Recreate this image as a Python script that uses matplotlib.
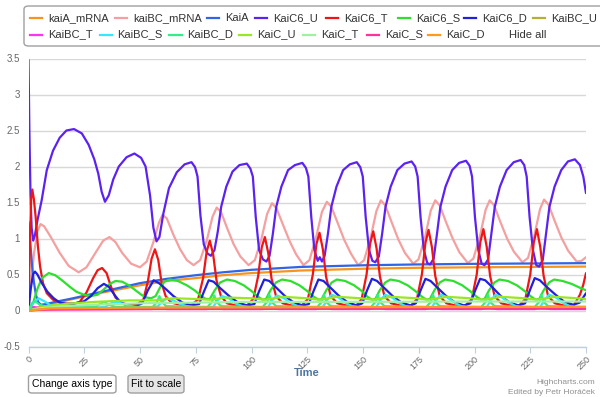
import numpy as np
import matplotlib
matplotlib.use("Agg")
import matplotlib.pyplot as plt
from matplotlib.patches import FancyBboxPatch
from matplotlib.lines import Line2D

plt.rcParams['font.family'] = ['Liberation Sans', 'DejaVu Sans']

# (time, value) pairs
kaiA_mrna = [(0, 0), (5, 0.05), (10, 0.09), (20, 0.16), (30, 0.23), (40, 0.29), (50, 0.35),
             (62, 0.41), (75, 0.45), (87, 0.49), (100, 0.52), (122, 0.555), (150, 0.58),
             (175, 0.593), (200, 0.6), (225, 0.605), (250, 0.61)]

kaiBC_mrna = [(0, 0), (1, 0.35), (2.5, 0.8), (4, 1.1), (5.4, 1.2), (7, 1.17), (10, 1.02), (14, 0.8),
              (18, 0.62), (22.5, 0.53), (26, 0.6), (30, 0.8), (33.5, 0.97), (36.3, 1.02), (39, 0.95),
              (42, 0.8), (46, 0.65), (50, 0.6), (53, 0.68), (56, 0.95), (58.5, 1.22), (60.1, 1.33),
              (62, 1.28), (65, 1.05), (68, 0.85), (71, 0.7), (74, 0.63), (77, 0.7), (80, 0.98),
              (82.5, 1.3), (84.4, 1.43), (86.3, 1.37), (89, 1.15), (92, 0.92), (95, 0.75), (98.7, 0.63),
              (101.5, 0.7), (104.5, 1.0), (107, 1.34), (109.2, 1.49), (111.2, 1.42), (114, 1.2),
              (117, 0.97), (120, 0.78), (123.3, 0.63), (126, 0.7), (129, 1.02), (131.6, 1.37),
              (133.8, 1.51), (135.8, 1.44), (138.6, 1.22), (141.6, 0.98), (144.6, 0.79), (147.8, 0.63),
              (150.5, 0.7), (153.5, 1.02), (156, 1.38), (158, 1.53), (160, 1.46), (162.8, 1.23),
              (165.8, 0.99), (168.8, 0.8), (172.5, 0.65), (174.9, 0.71), (177.9, 1.03), (180.4, 1.39),
              (182.4, 1.53), (184.4, 1.46), (187.2, 1.23), (190.2, 1.0), (193.2, 0.81), (197, 0.66),
              (199.5, 0.72), (202.5, 1.04), (205, 1.4), (206.8, 1.53), (208.8, 1.46), (211.6, 1.23),
              (214.6, 1.0), (217.6, 0.82), (221.5, 0.67), (224, 0.73), (226.9, 1.05), (229.4, 1.41),
              (231.2, 1.54), (233.2, 1.47), (236, 1.24), (239, 1.01), (242, 0.83), (245.8, 0.68),
              (248, 0.69), (250, 0.74)]

kaiA = [(0, 1.23), (0.8, 0.95), (1.6, 0.62), (2.4, 0.4), (3.3, 0.22), (4.3, 0.12), (5.5, 0.08),
        (8, 0.09), (12, 0.12), (20, 0.17), (30, 0.24), (40, 0.31), (50, 0.38), (62, 0.44),
        (75, 0.49), (87, 0.53), (100, 0.565), (122, 0.605), (150, 0.628), (175, 0.64),
        (200, 0.648), (225, 0.653), (250, 0.658)]

kaiC6_u = [(0, 3.48), (0.4, 2.5), (0.9, 1.6), (1.4, 1.15), (2.1, 0.97), (2.9, 1.05), (4, 1.25),
           (5.9, 1.53), (8.2, 1.95), (11, 2.22), (14, 2.4), (17, 2.5), (20.4, 2.52), (23.9, 2.46),
           (27, 2.3), (29.5, 2.1), (31.3, 1.9), (32.8, 1.65), (34.3, 1.51), (36, 1.6), (38, 1.82),
           (40.5, 2.0), (44, 2.13), (47.5, 2.18), (50.5, 2.12), (52.5, 2.0), (54.5, 1.6), (56, 1.15),
           (57.4, 0.96), (58.7, 1.02), (60.5, 1.35), (63, 1.7), (66.5, 1.92), (70, 2.03),
           (73.1, 2.06), (74.7, 1.99), (75.8, 1.86), (77.1, 1.32), (78.6, 0.92), (80.3, 0.79),
           (81.8, 0.76), (83.4, 0.84), (84.9, 1.1), (86.4, 1.44), (88.7, 1.72), (91.5, 1.93),
           (94.6, 2.02), (97.9, 2.04), (99.5, 1.97), (100.6, 1.86), (101.9, 1.3), (103.4, 0.84),
           (105.1, 0.71), (106.7, 0.68), (108.1, 0.76), (109.6, 1.07), (111.1, 1.44), (113.4, 1.72),
           (116.4, 1.95), (119.5, 2.02), (122.8, 2.05), (124.4, 1.98), (125.5, 1.86), (126.8, 1.3),
           (128.2, 0.84), (129.7, 0.69), (130.6, 0.74), (131.6, 0.68), (132.8, 0.76), (134.3, 1.07),
           (135.8, 1.44), (138.1, 1.72), (141.1, 1.95), (144.1, 2.03), (147.2, 2.06), (148.8, 1.99),
           (149.9, 1.86), (151.2, 1.3), (152.7, 0.84), (154.2, 0.69), (155.5, 0.67), (157.1, 0.75),
           (158.6, 1.07), (160.1, 1.44), (162.4, 1.72), (165.4, 1.95), (168.6, 2.04), (171.8, 2.07),
           (173.4, 2.0), (174.5, 1.86), (175.8, 1.3), (177.3, 0.84), (178.8, 0.66), (180.1, 0.64),
           (181.7, 0.72), (183.2, 1.07), (184.7, 1.44), (187, 1.72), (190, 1.95), (193.1, 2.05),
           (196.2, 2.08), (197.8, 2.01), (198.9, 1.86), (200.2, 1.3), (201.7, 0.84), (203.2, 0.65),
           (204.5, 0.63), (206.1, 0.71), (207.6, 1.07), (209.1, 1.44), (211.4, 1.72), (214.4, 1.95),
           (217.6, 2.06), (220.7, 2.09), (222.3, 2.02), (223.4, 1.86), (224.7, 1.3), (226.2, 0.84),
           (227.7, 0.63), (229, 0.61), (230.6, 0.7), (232.1, 1.07), (233.6, 1.44), (235.9, 1.72),
           (238.9, 1.95), (241.9, 2.07), (245, 2.1), (247.3, 2.02), (248.8, 1.86), (250, 1.63)]

kaiC6_t = [(0, 0.02), (0.6, 0.9), (1.2, 1.55), (1.7, 1.68), (2.4, 1.55), (3.2, 1.3), (4.2, 0.9),
           (5.2, 0.61), (6.5, 0.38), (8.2, 0.24), (11, 0.15), (15, 0.1), (20, 0.09), (23, 0.12),
           (26, 0.25), (29, 0.45), (31, 0.56), (33, 0.59), (35, 0.52), (37, 0.33), (39, 0.18),
           (42, 0.1), (45.5, 0.08), (49, 0.09), (51.5, 0.15), (53.5, 0.4), (55.2, 0.72), (56.7, 0.85),
           (58.2, 0.7), (59.7, 0.38), (61.5, 0.2), (64, 0.11), (68, 0.08), (73, 0.08), (76, 0.15),
           (78.3, 0.45), (79.9, 0.82), (81.3, 0.97), (82.8, 0.78), (84.3, 0.42), (86.3, 0.2),
           (89, 0.1), (93, 0.07), (98, 0.07), (100.8, 0.16), (103, 0.48), (104.6, 0.88), (106, 1.02),
           (107.5, 0.8), (109, 0.44), (111, 0.2), (114, 0.1), (118, 0.07), (122.5, 0.07),
           (125.3, 0.16), (127.5, 0.5), (129.1, 0.92), (130.5, 1.08), (132, 0.85), (133.5, 0.46),
           (135.5, 0.2), (138.5, 0.1), (142.5, 0.07), (147, 0.07), (149.4, 0.16), (151.6, 0.5),
           (153.2, 0.93), (154.6, 1.1), (156.1, 0.86), (157.6, 0.47), (159.6, 0.2), (162.6, 0.1),
           (166.6, 0.07), (171.5, 0.07), (174.2, 0.16), (176.4, 0.5), (178, 0.94), (179.4, 1.12),
           (180.9, 0.88), (182.4, 0.48), (184.4, 0.2), (187.4, 0.1), (191.4, 0.07), (196, 0.07),
           (198.8, 0.16), (201, 0.5), (202.6, 0.95), (204, 1.13), (205.5, 0.88), (207, 0.48),
           (209, 0.2), (212, 0.1), (216, 0.07), (220, 0.07), (222.8, 0.16), (225, 0.5), (226.6, 0.95),
           (228, 1.13), (229.5, 0.88), (231, 0.48), (233, 0.2), (236, 0.1), (240, 0.07),
           (244.5, 0.07), (247.3, 0.22), (248.8, 0.36), (250, 0.52)]

kaiC6_s = [(0, 0), (2, 0.1), (4, 0.3), (6, 0.45), (9.1, 0.52), (12, 0.49), (15, 0.42), (18.5, 0.33),
           (21.5, 0.26), (24.8, 0.22), (28, 0.2), (31, 0.22), (34, 0.3), (36.5, 0.37), (39, 0.41),
           (42, 0.4), (45, 0.35), (48, 0.28), (51, 0.21), (53, 0.18), (55, 0.17), (57, 0.2),
           (59, 0.32), (61, 0.4), (63.4, 0.43), (67, 0.41), (71, 0.35), (74.5, 0.28), (77.5, 0.2),
           (79.5, 0.16), (81.3, 0.16), (83.5, 0.28), (86, 0.39), (89, 0.43), (92.5, 0.41),
           (96.5, 0.35), (100, 0.27), (103, 0.19), (105, 0.15), (106.5, 0.16), (108.5, 0.28),
           (111, 0.39), (113.7, 0.43), (117.5, 0.41), (121.5, 0.35), (125, 0.27), (128, 0.19),
           (130, 0.15), (131.5, 0.16), (133.5, 0.28), (136, 0.39), (138.3, 0.43), (142, 0.41),
           (146, 0.35), (149.5, 0.27), (152, 0.19), (154, 0.15), (155.5, 0.16), (157.5, 0.28),
           (160, 0.39), (162.3, 0.43), (166, 0.41), (170, 0.35), (173.5, 0.27), (176.5, 0.19),
           (178.5, 0.15), (180, 0.16), (182, 0.28), (184.5, 0.39), (186.8, 0.43), (190.5, 0.41),
           (194.5, 0.35), (198, 0.27), (201, 0.19), (203, 0.15), (204.5, 0.16), (206.5, 0.28),
           (209, 0.39), (211.2, 0.43), (215, 0.41), (219, 0.35), (222.5, 0.27), (225.5, 0.19),
           (227.5, 0.15), (229, 0.16), (231, 0.28), (233.5, 0.39), (235.7, 0.43), (239.5, 0.41),
           (243.5, 0.37), (247, 0.32), (250, 0.28)]

kaiC6_d = [(0, 0.02), (1, 0.3), (2, 0.5), (2.9, 0.54), (4, 0.5), (6, 0.38), (8.5, 0.26), (11.3, 0.17),
           (14, 0.11), (17, 0.09), (21, 0.1), (25, 0.13), (28, 0.2), (31, 0.31), (33.8, 0.37),
           (36, 0.33), (38.5, 0.22), (41, 0.12), (44, 0.07), (48, 0.06), (51, 0.1), (53.5, 0.28),
           (56.1, 0.42), (58.5, 0.38), (61.5, 0.3), (65, 0.2), (69, 0.11), (73, 0.07), (76.5, 0.09),
           (78.5, 0.25), (80.8, 0.42), (83, 0.4), (86, 0.31), (90, 0.2), (94, 0.11), (98, 0.07),
           (101.3, 0.09), (103.3, 0.26), (105.7, 0.43), (108, 0.41), (111, 0.32), (115, 0.2),
           (119, 0.11), (123, 0.07), (125.7, 0.09), (127.7, 0.26), (130, 0.43), (132.3, 0.41),
           (135.3, 0.32), (139.3, 0.2), (143.3, 0.11), (147.3, 0.07), (149.7, 0.1), (151.7, 0.27),
           (154, 0.44), (156.3, 0.41), (159.3, 0.32), (163.3, 0.2), (167.3, 0.11), (171.3, 0.07),
           (173.7, 0.1), (175.7, 0.27), (178, 0.44), (180.3, 0.41), (183.3, 0.32), (187.3, 0.2),
           (191.3, 0.11), (195.3, 0.07), (198.2, 0.1), (200.2, 0.27), (202.5, 0.44), (204.8, 0.42),
           (207.8, 0.33), (211.8, 0.2), (215.8, 0.11), (219.8, 0.07), (222.7, 0.1), (224.7, 0.27),
           (227, 0.45), (229.3, 0.42), (232.3, 0.33), (236.3, 0.22), (240.3, 0.12), (244.3, 0.08),
           (247.2, 0.11), (250, 0.24)]

kaiBC_u = [(0, 0), (10, 0.02), (50, 0.03), (150, 0.033), (250, 0.035)]

kaiBC_t = [(0, 0), (2, 0.05), (6, 0.03), (20, 0.02), (55, 0.02), (58, 0.04), (62, 0.02), (80, 0.02),
           (83, 0.045), (87, 0.02), (105, 0.02), (108, 0.045), (112, 0.02), (129, 0.02), (132, 0.045),
           (136, 0.02), (153, 0.02), (156, 0.045), (160, 0.02), (178, 0.02), (181, 0.045), (185, 0.02),
           (203, 0.02), (206, 0.045), (210, 0.02), (227, 0.02), (230, 0.045), (234, 0.02), (250, 0.02)]

kaiBC_s = [(0, 0), (2, 0.1), (4.5, 0.17), (7, 0.13), (10, 0.07), (14, 0.05), (20, 0.04), (30, 0.04),
           (34.5, 0.05), (36.5, 0.09), (38.5, 0.12), (41.5, 0.1), (44.5, 0.07), (48, 0.05), (52, 0.04),
           (55, 0.04), (58, 0.06), (60, 0.12), (62, 0.17), (65, 0.14), (68, 0.09), (71, 0.06),
           (75, 0.04), (79, 0.04), (82.8, 0.05), (84.8, 0.14), (86.8, 0.2), (89.8, 0.17), (92.8, 0.1),
           (95.8, 0.06), (100, 0.04), (103.5, 0.04), (107.5, 0.05), (109.5, 0.15), (111.5, 0.21),
           (114.5, 0.17), (117.5, 0.11), (120.5, 0.06), (124.5, 0.04), (128, 0.04), (132, 0.05),
           (134, 0.15), (136, 0.22), (139, 0.18), (142, 0.11), (145, 0.06), (149, 0.04), (152, 0.04),
           (156, 0.05), (158, 0.15), (160, 0.22), (163, 0.18), (166, 0.11), (169, 0.06), (173, 0.04),
           (177, 0.04), (181, 0.05), (183, 0.15), (185, 0.22), (188, 0.18), (191, 0.11), (194, 0.06),
           (198, 0.04), (201.5, 0.04), (205.5, 0.05), (207.5, 0.15), (209.5, 0.22), (212.5, 0.18),
           (215.5, 0.11), (218.5, 0.06), (222.5, 0.04), (225.5, 0.04), (229.5, 0.05), (231.5, 0.15),
           (233.5, 0.22), (236.5, 0.18), (239.5, 0.11), (242.5, 0.06), (246.5, 0.04), (250, 0.04)]

kaiBC_d = [(0, 0), (1.5, 0.1), (3, 0.13), (5, 0.08), (8, 0.05), (30, 0.05), (32, 0.09), (34, 0.12),
           (36, 0.08), (39, 0.05), (55.7, 0.05), (57.7, 0.12), (58.7, 0.2), (59.7, 0.12), (61.7, 0.06),
           (80.3, 0.05), (82.3, 0.12), (83.3, 0.21), (84.3, 0.12), (86.3, 0.06), (105, 0.05),
           (107, 0.12), (108, 0.22), (109, 0.12), (111, 0.06), (129.5, 0.05), (131.5, 0.12),
           (132.5, 0.22), (133.5, 0.12), (135.5, 0.06), (153.6, 0.05), (155.6, 0.12), (156.6, 0.22),
           (157.6, 0.12), (159.6, 0.06), (178.4, 0.05), (180.4, 0.12), (181.4, 0.22), (182.4, 0.12),
           (184.4, 0.06), (203, 0.05), (205, 0.12), (206, 0.22), (207, 0.12), (209, 0.06),
           (227, 0.05), (229, 0.12), (230, 0.22), (231, 0.12), (233, 0.06), (250, 0.05)]

kaiC_u = [(0, 0), (5, 0.04), (10, 0.07), (20, 0.1), (30, 0.12), (45, 0.14), (56.7, 0.14), (65, 0.17),
          (75, 0.16), (81.3, 0.15), (89, 0.18), (100, 0.17), (106, 0.15), (114, 0.19), (125, 0.17),
          (130.5, 0.15), (138.5, 0.19), (149, 0.17), (154.6, 0.15), (162.5, 0.19), (174, 0.17),
          (179.4, 0.15), (187.5, 0.19), (198, 0.17), (204, 0.15), (212, 0.19), (222.5, 0.17),
          (228, 0.15), (236, 0.19), (246, 0.17), (250, 0.16)]

kaiC_t = [(0, 0), (5, 0.03), (15, 0.06), (30, 0.08), (50, 0.1), (75, 0.11), (100, 0.12),
          (150, 0.12), (200, 0.125), (250, 0.125)]

kaiC_s = [(0, 0), (5, 0.01), (50, 0.02), (150, 0.024), (250, 0.025)]

kaiC_d = [(0, 0), (10, 0.03), (50, 0.04), (150, 0.047), (250, 0.05)]

series = [
    ("kaiA_mRNA", kaiA_mrna, "#f7941d"),
    ("kaiBC_mRNA", kaiBC_mrna, "#f4a0a0"),
    ("KaiA", kaiA, "#2f66e8"),
    ("KaiC6_U", kaiC6_u, "#5b22f2"),
    ("KaiC6_T", kaiC6_t, "#f01515"),
    ("KaiC6_S", kaiC6_s, "#2fdf2f"),
    ("KaiC6_D", kaiC6_d, "#2020dd"),
    ("KaiBC_U", kaiBC_u, "#b5b035"),
    ("KaiBC_T", kaiBC_t, "#ff33ee"),
    ("KaiBC_S", kaiBC_s, "#33e8ff"),
    ("KaiBC_D", kaiBC_d, "#33ee88"),
    ("KaiC_U", kaiC_u, "#99e622"),
    ("KaiC_T", kaiC_t, "#a0f0a0"),
    ("KaiC_S", kaiC_s, "#ff3399"),
    ("KaiC_D", kaiC_d, "#ff9922"),
]

x_ticks = [0, 25, 50, 75, 100, 125, 150, 175, 200, 225, 250]
y_ticks = [-0.5, 0, 0.5, 1, 1.5, 2, 2.5, 3, 3.5]

W, H = 600, 397
fig = plt.figure(figsize=(W / 100, H / 100), dpi=100)
ax = fig.add_axes([28.5 / W, 1 - 346.5 / H, (586 - 28.5) / W, (346.5 - 58.5) / H])

for name, pts, col in series:
    t = [p[0] for p in pts]
    v = [p[1] for p in pts]
    ax.plot(t, v, color=col, lw=1.6, solid_joinstyle='round', solid_capstyle='round')

ax.set_xlim(0, 250)
ax.set_ylim(-0.5, 3.5)
ax.set_yticks(y_ticks)
ax.set_yticklabels(['%g' % y for y in y_ticks], fontsize=7, color='#666666')
ax.set_xticks(x_ticks)
ax.set_xticklabels([str(x) for x in x_ticks], fontsize=6.5, color='#666666',
                   rotation=45, ha='right', va='top', rotation_mode='anchor')
ax.tick_params(axis='y', length=0, pad=6)
ax.tick_params(axis='x', length=4, color='#c0d0e0', pad=2)
ax.grid(axis='y', color='#d8d8d8', lw=1)
ax.set_axisbelow(True)
for s in ['top', 'right', 'left']:
    ax.spines[s].set_visible(False)
ax.spines['bottom'].set_color('#c0d0e0')
ax.spines['bottom'].set_linewidth(1)
ax.spines['bottom'].set_zorder(5)


def fx(x):
    return x / W


def fy(y):
    return 1 - y / H


fig.text(fx(307), fy(373), 'Time', fontsize=8, fontweight='bold', color='#4d759e',
         ha='center', va='center')

# legend box
fig.add_artist(FancyBboxPatch((fx(24), fy(46)), fx(640) - fx(24), fy(6) - fy(46),
                              boxstyle="round,pad=0,rounding_size=0.008",
                              transform=fig.transFigure, facecolor='white',
                              edgecolor='#a0a0a0', lw=1))
legend_pos = [48, 133, 225, 273, 344, 416, 482, 551,
              48, 117.5, 187.5, 257, 321, 385, 446]
for i, (name, pts, col) in enumerate(series):
    row_y = 18 if i < 8 else 34.5
    tx = legend_pos[i]
    fig.add_artist(Line2D([fx(tx - 18), fx(tx - 6)], [fy(row_y), fy(row_y)],
                          transform=fig.transFigure, color=col, lw=1.6))
    fig.text(fx(tx), fy(row_y), name, fontsize=8, color='#333333', va='center', ha='left')
fig.text(fx(509), fy(34.5), 'Hide all', fontsize=8, color='#333333', va='center', ha='left')

# buttons
fig.add_artist(FancyBboxPatch((fx(28.5), fy(393)), fx(116) - fx(28.5), fy(375) - fy(393),
                              boxstyle="round,pad=0,rounding_size=0.006",
                              transform=fig.transFigure, facecolor='white',
                              edgecolor='#a0a0a0', lw=1))
fig.text(fx(72), fy(384), 'Change axis type', fontsize=7.5, color='black', ha='center', va='center')
fig.add_artist(FancyBboxPatch((fx(128), fy(393)), fx(184) - fx(128), fy(375) - fy(393),
                              boxstyle="round,pad=0,rounding_size=0.006",
                              transform=fig.transFigure, facecolor='#e6e6e6',
                              edgecolor='#a0a0a0', lw=1))
fig.text(fx(156), fy(384), 'Fit to scale', fontsize=7.5, color='black', ha='center', va='center')

# credits
fig.text(fx(595), fy(382), 'Highcharts.com', fontsize=6, color='#909090', ha='right', va='center')
fig.text(fx(595), fy(393), 'Edited by Petr Horáček', fontsize=6, color='#909090', ha='right', va='center')

fig.savefig('out.png', dpi=100)
